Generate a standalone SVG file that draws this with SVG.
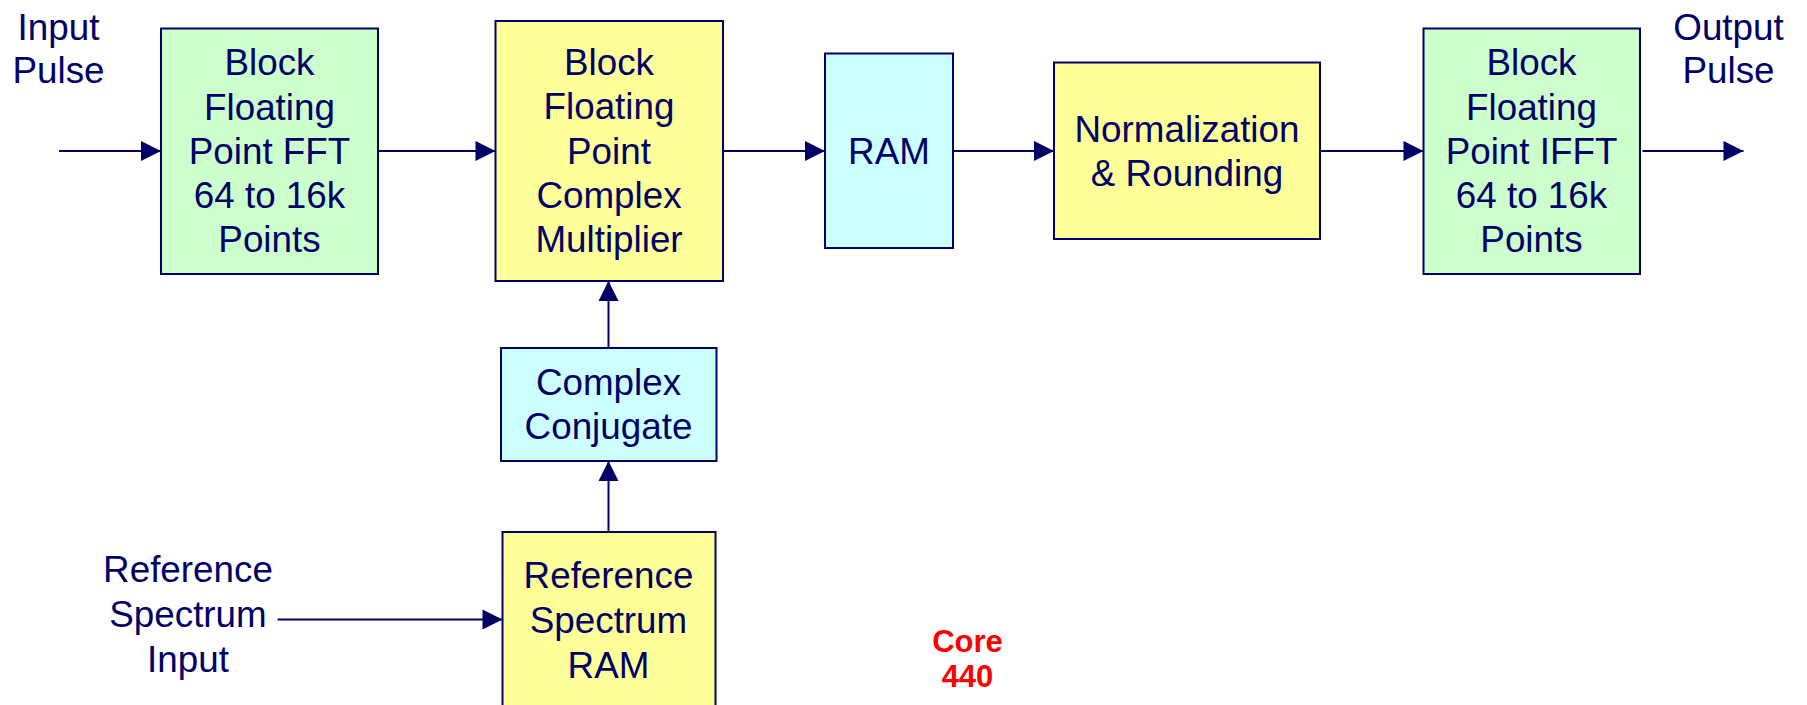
<svg xmlns="http://www.w3.org/2000/svg" width="1807" height="705" viewBox="0 0 1807 705">
  <style>
    .box { stroke: #000066; stroke-width: 2; }
    .green { fill: #CCFFCC; }
    .yellow { fill: #FFFF99; }
    .cyan { fill: #CCFFFF; }
    .lbl { font-family: "Liberation Sans", Arial, sans-serif; font-size: 36.8px; fill: #000066; text-anchor: middle; }
    .core { font-family: "Liberation Sans", Arial, sans-serif; font-size: 31px; font-weight: bold; fill: #FF0000; text-anchor: middle; }
    .wire { stroke: #000066; stroke-width: 2; fill: none; marker-end: url(#arrow); }
  </style>
  <defs>
    <marker id="arrow" markerUnits="userSpaceOnUse" markerWidth="22" markerHeight="22" viewBox="0 0 22 22" refX="21" refY="11" orient="auto">
      <path d="M1,1 L21,11 L1,21 Z" fill="#000066"/>
    </marker>
  </defs>
  <rect width="1807" height="705" fill="#FFFFFF"/>

  <!-- free labels -->
  <g id="input-pulse">
    <text class="lbl" x="58.5" y="40">Input</text>
    <text class="lbl" x="58.5" y="83">Pulse</text>
  </g>
  <g id="output-pulse">
    <text class="lbl" x="1728.5" y="40">Output</text>
    <text class="lbl" x="1728.5" y="83">Pulse</text>
  </g>
  <g id="ref-input">
    <text class="lbl" x="188" y="582">Reference</text>
    <text class="lbl" x="188" y="627">Spectrum</text>
    <text class="lbl" x="188" y="671.5">Input</text>
  </g>

  <!-- processing blocks -->
  <g id="fft">
    <rect class="box green" x="161" y="28.5" width="217" height="245.5"/>
    <text class="lbl" x="269.5" y="75">Block</text>
    <text class="lbl" x="269.5" y="119.5">Floating</text>
    <text class="lbl" x="269.5" y="164">Point FFT</text>
    <text class="lbl" x="269.5" y="208">64 to 16k</text>
    <text class="lbl" x="269.5" y="252">Points</text>
  </g>
  <g id="multiplier">
    <rect class="box yellow" x="495.5" y="21" width="227.5" height="260"/>
    <text class="lbl" x="609" y="74.5">Block</text>
    <text class="lbl" x="609" y="119">Floating</text>
    <text class="lbl" x="609" y="164">Point</text>
    <text class="lbl" x="609" y="208">Complex</text>
    <text class="lbl" x="609" y="252">Multiplier</text>
  </g>
  <g id="ram">
    <rect class="box cyan" x="825" y="53.5" width="128" height="194.5"/>
    <text class="lbl" x="889" y="164">RAM</text>
  </g>
  <g id="normalization">
    <rect class="box yellow" x="1054" y="62.5" width="266" height="176.5"/>
    <text class="lbl" x="1187" y="141.5">Normalization</text>
    <text class="lbl" x="1187" y="186">&amp; Rounding</text>
  </g>
  <g id="ifft">
    <rect class="box green" x="1423.5" y="28.5" width="216.5" height="245.5"/>
    <text class="lbl" x="1531.5" y="75">Block</text>
    <text class="lbl" x="1531.5" y="119.5">Floating</text>
    <text class="lbl" x="1531.5" y="164">Point IFFT</text>
    <text class="lbl" x="1531.5" y="208">64 to 16k</text>
    <text class="lbl" x="1531.5" y="252">Points</text>
  </g>
  <g id="conjugate">
    <rect class="box cyan" x="501" y="348" width="215.5" height="113"/>
    <text class="lbl" x="608.5" y="395">Complex</text>
    <text class="lbl" x="608.5" y="439">Conjugate</text>
  </g>
  <g id="ref-ram">
    <rect class="box yellow" x="502.5" y="532" width="213" height="182"/>
    <text class="lbl" x="608.5" y="588">Reference</text>
    <text class="lbl" x="608.5" y="632.5">Spectrum</text>
    <text class="lbl" x="608.5" y="677.5">RAM</text>
  </g>

  <g id="core-label">
    <text class="core" x="967.5" y="652">Core</text>
    <text class="core" x="967.5" y="687">440</text>
  </g>

  <!-- connectors -->
  <g id="connectors">
    <line class="wire" x1="59" y1="151" x2="161" y2="151"/>
    <line class="wire" x1="378" y1="151" x2="495.5" y2="151"/>
    <line class="wire" x1="723" y1="151" x2="825" y2="151"/>
    <line class="wire" x1="953" y1="151" x2="1054" y2="151"/>
    <line class="wire" x1="1320" y1="151" x2="1423.5" y2="151"/>
    <line class="wire" x1="1642.5" y1="151" x2="1743.5" y2="151"/>
    <line class="wire" x1="608.5" y1="348" x2="608.5" y2="281"/>
    <line class="wire" x1="608.5" y1="532" x2="608.5" y2="461"/>
    <line class="wire" x1="277.5" y1="619.5" x2="502.5" y2="619.5"/>
  </g>
</svg>
